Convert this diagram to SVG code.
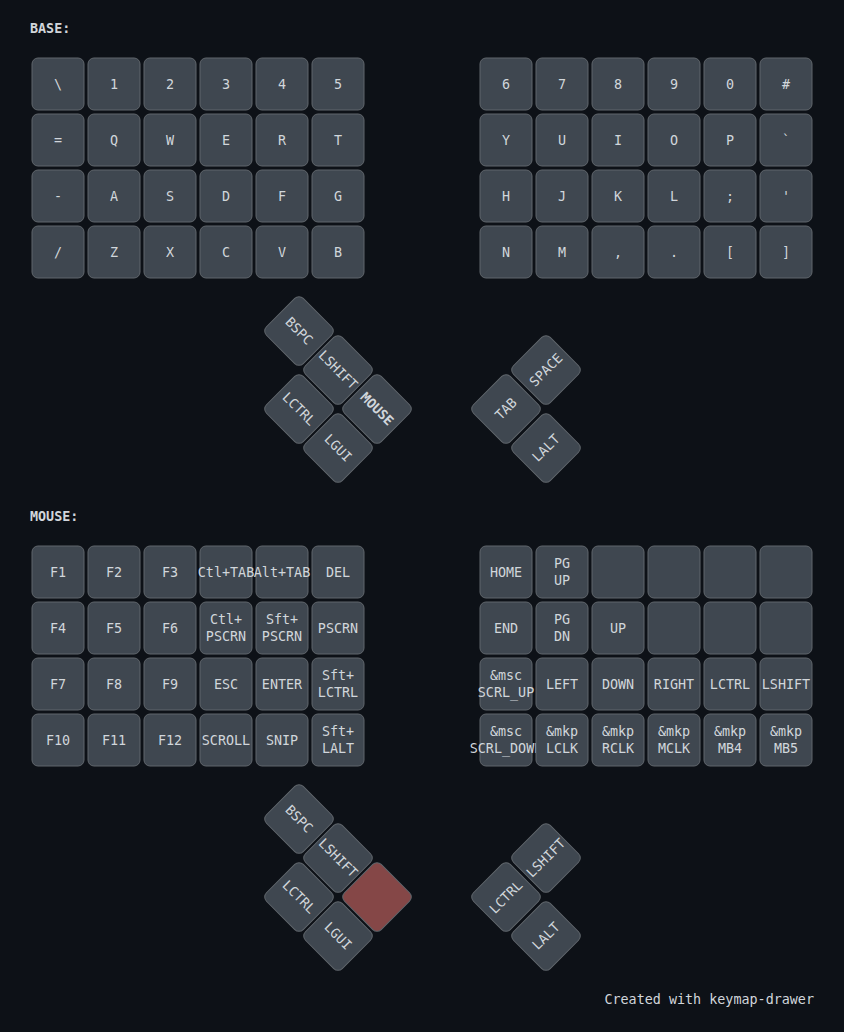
<svg xmlns="http://www.w3.org/2000/svg" width="844" height="1032" viewBox="0 0 844 1032">
<style>
.bg{fill:#0d1117}
.k{fill:#3f4750;stroke:#60666c;stroke-width:1}
.h{fill:#854747;stroke:#60666c;stroke-width:1}
text{font-family:"DejaVu Sans Mono","Liberation Mono",monospace;font-size:13.4px;fill:#d1d6db;text-anchor:middle;dominant-baseline:central}
.lbl{font-weight:bold;text-anchor:start}
.b{font-weight:bold}
.ft{text-anchor:end}
</style>
<rect class="bg" x="0" y="0" width="844" height="1032"/>

<g id="layer-base">
<text class="lbl" x="30" y="28">BASE:</text>
<g id="base-r0">
<g id="b-0-0"><rect class="k" x="32" y="58" width="52" height="52" rx="6"/><text x="58" y="84">\</text></g>
<g id="b-0-1"><rect class="k" x="88" y="58" width="52" height="52" rx="6"/><text x="114" y="84">1</text></g>
<g id="b-0-2"><rect class="k" x="144" y="58" width="52" height="52" rx="6"/><text x="170" y="84">2</text></g>
<g id="b-0-3"><rect class="k" x="200" y="58" width="52" height="52" rx="6"/><text x="226" y="84">3</text></g>
<g id="b-0-4"><rect class="k" x="256" y="58" width="52" height="52" rx="6"/><text x="282" y="84">4</text></g>
<g id="b-0-5"><rect class="k" x="312" y="58" width="52" height="52" rx="6"/><text x="338" y="84">5</text></g>
<g id="b-0-6"><rect class="k" x="480" y="58" width="52" height="52" rx="6"/><text x="506" y="84">6</text></g>
<g id="b-0-7"><rect class="k" x="536" y="58" width="52" height="52" rx="6"/><text x="562" y="84">7</text></g>
<g id="b-0-8"><rect class="k" x="592" y="58" width="52" height="52" rx="6"/><text x="618" y="84">8</text></g>
<g id="b-0-9"><rect class="k" x="648" y="58" width="52" height="52" rx="6"/><text x="674" y="84">9</text></g>
<g id="b-0-10"><rect class="k" x="704" y="58" width="52" height="52" rx="6"/><text x="730" y="84">0</text></g>
<g id="b-0-11"><rect class="k" x="760" y="58" width="52" height="52" rx="6"/><text x="786" y="84">#</text></g>
</g>
<g id="base-r1">
<g id="b-1-0"><rect class="k" x="32" y="114" width="52" height="52" rx="6"/><text x="58" y="140">=</text></g>
<g id="b-1-1"><rect class="k" x="88" y="114" width="52" height="52" rx="6"/><text x="114" y="140">Q</text></g>
<g id="b-1-2"><rect class="k" x="144" y="114" width="52" height="52" rx="6"/><text x="170" y="140">W</text></g>
<g id="b-1-3"><rect class="k" x="200" y="114" width="52" height="52" rx="6"/><text x="226" y="140">E</text></g>
<g id="b-1-4"><rect class="k" x="256" y="114" width="52" height="52" rx="6"/><text x="282" y="140">R</text></g>
<g id="b-1-5"><rect class="k" x="312" y="114" width="52" height="52" rx="6"/><text x="338" y="140">T</text></g>
<g id="b-1-6"><rect class="k" x="480" y="114" width="52" height="52" rx="6"/><text x="506" y="140">Y</text></g>
<g id="b-1-7"><rect class="k" x="536" y="114" width="52" height="52" rx="6"/><text x="562" y="140">U</text></g>
<g id="b-1-8"><rect class="k" x="592" y="114" width="52" height="52" rx="6"/><text x="618" y="140">I</text></g>
<g id="b-1-9"><rect class="k" x="648" y="114" width="52" height="52" rx="6"/><text x="674" y="140">O</text></g>
<g id="b-1-10"><rect class="k" x="704" y="114" width="52" height="52" rx="6"/><text x="730" y="140">P</text></g>
<g id="b-1-11"><rect class="k" x="760" y="114" width="52" height="52" rx="6"/><text x="786" y="140">`</text></g>
</g>
<g id="base-r2">
<g id="b-2-0"><rect class="k" x="32" y="170" width="52" height="52" rx="6"/><text x="58" y="196">-</text></g>
<g id="b-2-1"><rect class="k" x="88" y="170" width="52" height="52" rx="6"/><text x="114" y="196">A</text></g>
<g id="b-2-2"><rect class="k" x="144" y="170" width="52" height="52" rx="6"/><text x="170" y="196">S</text></g>
<g id="b-2-3"><rect class="k" x="200" y="170" width="52" height="52" rx="6"/><text x="226" y="196">D</text></g>
<g id="b-2-4"><rect class="k" x="256" y="170" width="52" height="52" rx="6"/><text x="282" y="196">F</text></g>
<g id="b-2-5"><rect class="k" x="312" y="170" width="52" height="52" rx="6"/><text x="338" y="196">G</text></g>
<g id="b-2-6"><rect class="k" x="480" y="170" width="52" height="52" rx="6"/><text x="506" y="196">H</text></g>
<g id="b-2-7"><rect class="k" x="536" y="170" width="52" height="52" rx="6"/><text x="562" y="196">J</text></g>
<g id="b-2-8"><rect class="k" x="592" y="170" width="52" height="52" rx="6"/><text x="618" y="196">K</text></g>
<g id="b-2-9"><rect class="k" x="648" y="170" width="52" height="52" rx="6"/><text x="674" y="196">L</text></g>
<g id="b-2-10"><rect class="k" x="704" y="170" width="52" height="52" rx="6"/><text x="730" y="196">;</text></g>
<g id="b-2-11"><rect class="k" x="760" y="170" width="52" height="52" rx="6"/><text x="786" y="196">'</text></g>
</g>
<g id="base-r3">
<g id="b-3-0"><rect class="k" x="32" y="226" width="52" height="52" rx="6"/><text x="58" y="252">/</text></g>
<g id="b-3-1"><rect class="k" x="88" y="226" width="52" height="52" rx="6"/><text x="114" y="252">Z</text></g>
<g id="b-3-2"><rect class="k" x="144" y="226" width="52" height="52" rx="6"/><text x="170" y="252">X</text></g>
<g id="b-3-3"><rect class="k" x="200" y="226" width="52" height="52" rx="6"/><text x="226" y="252">C</text></g>
<g id="b-3-4"><rect class="k" x="256" y="226" width="52" height="52" rx="6"/><text x="282" y="252">V</text></g>
<g id="b-3-5"><rect class="k" x="312" y="226" width="52" height="52" rx="6"/><text x="338" y="252">B</text></g>
<g id="b-3-6"><rect class="k" x="480" y="226" width="52" height="52" rx="6"/><text x="506" y="252">N</text></g>
<g id="b-3-7"><rect class="k" x="536" y="226" width="52" height="52" rx="6"/><text x="562" y="252">M</text></g>
<g id="b-3-8"><rect class="k" x="592" y="226" width="52" height="52" rx="6"/><text x="618" y="252">,</text></g>
<g id="b-3-9"><rect class="k" x="648" y="226" width="52" height="52" rx="6"/><text x="674" y="252">.</text></g>
<g id="b-3-10"><rect class="k" x="704" y="226" width="52" height="52" rx="6"/><text x="730" y="252">[</text></g>
<g id="b-3-11"><rect class="k" x="760" y="226" width="52" height="52" rx="6"/><text x="786" y="252">]</text></g>
</g>
<g id="base-thumbs">
<g id="b-t-bspc" transform="rotate(45 299 331)"><rect class="k" x="273" y="305" width="52" height="52" rx="6"/><text x="299" y="331">BSPC</text></g>
<g id="b-t-lshift" transform="rotate(45 338 370)"><rect class="k" x="312" y="344" width="52" height="52" rx="6"/><text x="338" y="370">LSHIFT</text></g>
<g id="b-t-lctrl" transform="rotate(45 299 409)"><rect class="k" x="273" y="383" width="52" height="52" rx="6"/><text x="299" y="409">LCTRL</text></g>
<g id="b-t-mouse" transform="rotate(45 377 409)"><rect class="k" x="351" y="383" width="52" height="52" rx="6"/><text class="b" x="377" y="409">MOUSE</text></g>
<g id="b-t-lgui" transform="rotate(45 338 448)"><rect class="k" x="312" y="422" width="52" height="52" rx="6"/><text x="338" y="448">LGUI</text></g>
<g id="b-t-space" transform="rotate(-45 546 370)"><rect class="k" x="520" y="344" width="52" height="52" rx="6"/><text x="546" y="370">SPACE</text></g>
<g id="b-t-tab" transform="rotate(-45 506 409)"><rect class="k" x="480" y="383" width="52" height="52" rx="6"/><text x="506" y="409">TAB</text></g>
<g id="b-t-lalt" transform="rotate(-45 546 448)"><rect class="k" x="520" y="422" width="52" height="52" rx="6"/><text x="546" y="448">LALT</text></g>
</g>
</g>

<g id="layer-mouse">
<text class="lbl" x="30" y="516">MOUSE:</text>
<g id="mouse-r0">
<g id="m-0-0"><rect class="k" x="32" y="546" width="52" height="52" rx="6"/><text x="58" y="572">F1</text></g>
<g id="m-0-1"><rect class="k" x="88" y="546" width="52" height="52" rx="6"/><text x="114" y="572">F2</text></g>
<g id="m-0-2"><rect class="k" x="144" y="546" width="52" height="52" rx="6"/><text x="170" y="572">F3</text></g>
<g id="m-0-3"><rect class="k" x="200" y="546" width="52" height="52" rx="6"/><text x="226" y="572">Ctl+TAB</text></g>
<g id="m-0-4"><rect class="k" x="256" y="546" width="52" height="52" rx="6"/><text x="282" y="572">Alt+TAB</text></g>
<g id="m-0-5"><rect class="k" x="312" y="546" width="52" height="52" rx="6"/><text x="338" y="572">DEL</text></g>
<g id="m-0-6"><rect class="k" x="480" y="546" width="52" height="52" rx="6"/><text x="506" y="572">HOME</text></g>
<g id="m-0-7"><rect class="k" x="536" y="546" width="52" height="52" rx="6"/><text x="562" y="563.5">PG</text><text x="562" y="580.5">UP</text></g>
<g id="m-0-8"><rect class="k" x="592" y="546" width="52" height="52" rx="6"/></g>
<g id="m-0-9"><rect class="k" x="648" y="546" width="52" height="52" rx="6"/></g>
<g id="m-0-10"><rect class="k" x="704" y="546" width="52" height="52" rx="6"/></g>
<g id="m-0-11"><rect class="k" x="760" y="546" width="52" height="52" rx="6"/></g>
</g>
<g id="mouse-r1">
<g id="m-1-0"><rect class="k" x="32" y="602" width="52" height="52" rx="6"/><text x="58" y="628">F4</text></g>
<g id="m-1-1"><rect class="k" x="88" y="602" width="52" height="52" rx="6"/><text x="114" y="628">F5</text></g>
<g id="m-1-2"><rect class="k" x="144" y="602" width="52" height="52" rx="6"/><text x="170" y="628">F6</text></g>
<g id="m-1-3"><rect class="k" x="200" y="602" width="52" height="52" rx="6"/><text x="226" y="619.5">Ctl+</text><text x="226" y="636.5">PSCRN</text></g>
<g id="m-1-4"><rect class="k" x="256" y="602" width="52" height="52" rx="6"/><text x="282" y="619.5">Sft+</text><text x="282" y="636.5">PSCRN</text></g>
<g id="m-1-5"><rect class="k" x="312" y="602" width="52" height="52" rx="6"/><text x="338" y="628">PSCRN</text></g>
<g id="m-1-6"><rect class="k" x="480" y="602" width="52" height="52" rx="6"/><text x="506" y="628">END</text></g>
<g id="m-1-7"><rect class="k" x="536" y="602" width="52" height="52" rx="6"/><text x="562" y="619.5">PG</text><text x="562" y="636.5">DN</text></g>
<g id="m-1-8"><rect class="k" x="592" y="602" width="52" height="52" rx="6"/><text x="618" y="628">UP</text></g>
<g id="m-1-9"><rect class="k" x="648" y="602" width="52" height="52" rx="6"/></g>
<g id="m-1-10"><rect class="k" x="704" y="602" width="52" height="52" rx="6"/></g>
<g id="m-1-11"><rect class="k" x="760" y="602" width="52" height="52" rx="6"/></g>
</g>
<g id="mouse-r2">
<g id="m-2-0"><rect class="k" x="32" y="658" width="52" height="52" rx="6"/><text x="58" y="684">F7</text></g>
<g id="m-2-1"><rect class="k" x="88" y="658" width="52" height="52" rx="6"/><text x="114" y="684">F8</text></g>
<g id="m-2-2"><rect class="k" x="144" y="658" width="52" height="52" rx="6"/><text x="170" y="684">F9</text></g>
<g id="m-2-3"><rect class="k" x="200" y="658" width="52" height="52" rx="6"/><text x="226" y="684">ESC</text></g>
<g id="m-2-4"><rect class="k" x="256" y="658" width="52" height="52" rx="6"/><text x="282" y="684">ENTER</text></g>
<g id="m-2-5"><rect class="k" x="312" y="658" width="52" height="52" rx="6"/><text x="338" y="675.5">Sft+</text><text x="338" y="692.5">LCTRL</text></g>
<g id="m-2-6"><rect class="k" x="480" y="658" width="52" height="52" rx="6"/><text x="506" y="675.5">&amp;msc</text><text x="506" y="692.5">SCRL_UP</text></g>
<g id="m-2-7"><rect class="k" x="536" y="658" width="52" height="52" rx="6"/><text x="562" y="684">LEFT</text></g>
<g id="m-2-8"><rect class="k" x="592" y="658" width="52" height="52" rx="6"/><text x="618" y="684">DOWN</text></g>
<g id="m-2-9"><rect class="k" x="648" y="658" width="52" height="52" rx="6"/><text x="674" y="684">RIGHT</text></g>
<g id="m-2-10"><rect class="k" x="704" y="658" width="52" height="52" rx="6"/><text x="730" y="684">LCTRL</text></g>
<g id="m-2-11"><rect class="k" x="760" y="658" width="52" height="52" rx="6"/><text x="786" y="684">LSHIFT</text></g>
</g>
<g id="mouse-r3">
<g id="m-3-0"><rect class="k" x="32" y="714" width="52" height="52" rx="6"/><text x="58" y="740">F10</text></g>
<g id="m-3-1"><rect class="k" x="88" y="714" width="52" height="52" rx="6"/><text x="114" y="740">F11</text></g>
<g id="m-3-2"><rect class="k" x="144" y="714" width="52" height="52" rx="6"/><text x="170" y="740">F12</text></g>
<g id="m-3-3"><rect class="k" x="200" y="714" width="52" height="52" rx="6"/><text x="226" y="740">SCROLL</text></g>
<g id="m-3-4"><rect class="k" x="256" y="714" width="52" height="52" rx="6"/><text x="282" y="740">SNIP</text></g>
<g id="m-3-5"><rect class="k" x="312" y="714" width="52" height="52" rx="6"/><text x="338" y="731.5">Sft+</text><text x="338" y="748.5">LALT</text></g>
<g id="m-3-6"><rect class="k" x="480" y="714" width="52" height="52" rx="6"/><text x="506" y="731.5">&amp;msc</text><text x="506" y="748.5">SCRL_DOWN</text></g>
<g id="m-3-7"><rect class="k" x="536" y="714" width="52" height="52" rx="6"/><text x="562" y="731.5">&amp;mkp</text><text x="562" y="748.5">LCLK</text></g>
<g id="m-3-8"><rect class="k" x="592" y="714" width="52" height="52" rx="6"/><text x="618" y="731.5">&amp;mkp</text><text x="618" y="748.5">RCLK</text></g>
<g id="m-3-9"><rect class="k" x="648" y="714" width="52" height="52" rx="6"/><text x="674" y="731.5">&amp;mkp</text><text x="674" y="748.5">MCLK</text></g>
<g id="m-3-10"><rect class="k" x="704" y="714" width="52" height="52" rx="6"/><text x="730" y="731.5">&amp;mkp</text><text x="730" y="748.5">MB4</text></g>
<g id="m-3-11"><rect class="k" x="760" y="714" width="52" height="52" rx="6"/><text x="786" y="731.5">&amp;mkp</text><text x="786" y="748.5">MB5</text></g>
</g>
<g id="mouse-thumbs">
<g id="m-t-bspc" transform="rotate(45 299 819)"><rect class="k" x="273" y="793" width="52" height="52" rx="6"/><text x="299" y="819">BSPC</text></g>
<g id="m-t-lshift" transform="rotate(45 338 858)"><rect class="k" x="312" y="832" width="52" height="52" rx="6"/><text x="338" y="858">LSHIFT</text></g>
<g id="m-t-lctrl" transform="rotate(45 299 897)"><rect class="k" x="273" y="871" width="52" height="52" rx="6"/><text x="299" y="897">LCTRL</text></g>
<g id="m-t-held" transform="rotate(45 377 897)"><rect class="h" x="351" y="871" width="52" height="52" rx="6"/></g>
<g id="m-t-lgui" transform="rotate(45 338 936)"><rect class="k" x="312" y="910" width="52" height="52" rx="6"/><text x="338" y="936">LGUI</text></g>
<g id="m-t-lshift-r" transform="rotate(-45 546 858)"><rect class="k" x="520" y="832" width="52" height="52" rx="6"/><text x="546" y="858">LSHIFT</text></g>
<g id="m-t-lctrl-r" transform="rotate(-45 506 897)"><rect class="k" x="480" y="871" width="52" height="52" rx="6"/><text x="506" y="897">LCTRL</text></g>
<g id="m-t-lalt" transform="rotate(-45 546 936)"><rect class="k" x="520" y="910" width="52" height="52" rx="6"/><text x="546" y="936">LALT</text></g>
</g>
</g>

<text id="footer" class="ft" x="814" y="999">Created with keymap-drawer</text>
</svg>
